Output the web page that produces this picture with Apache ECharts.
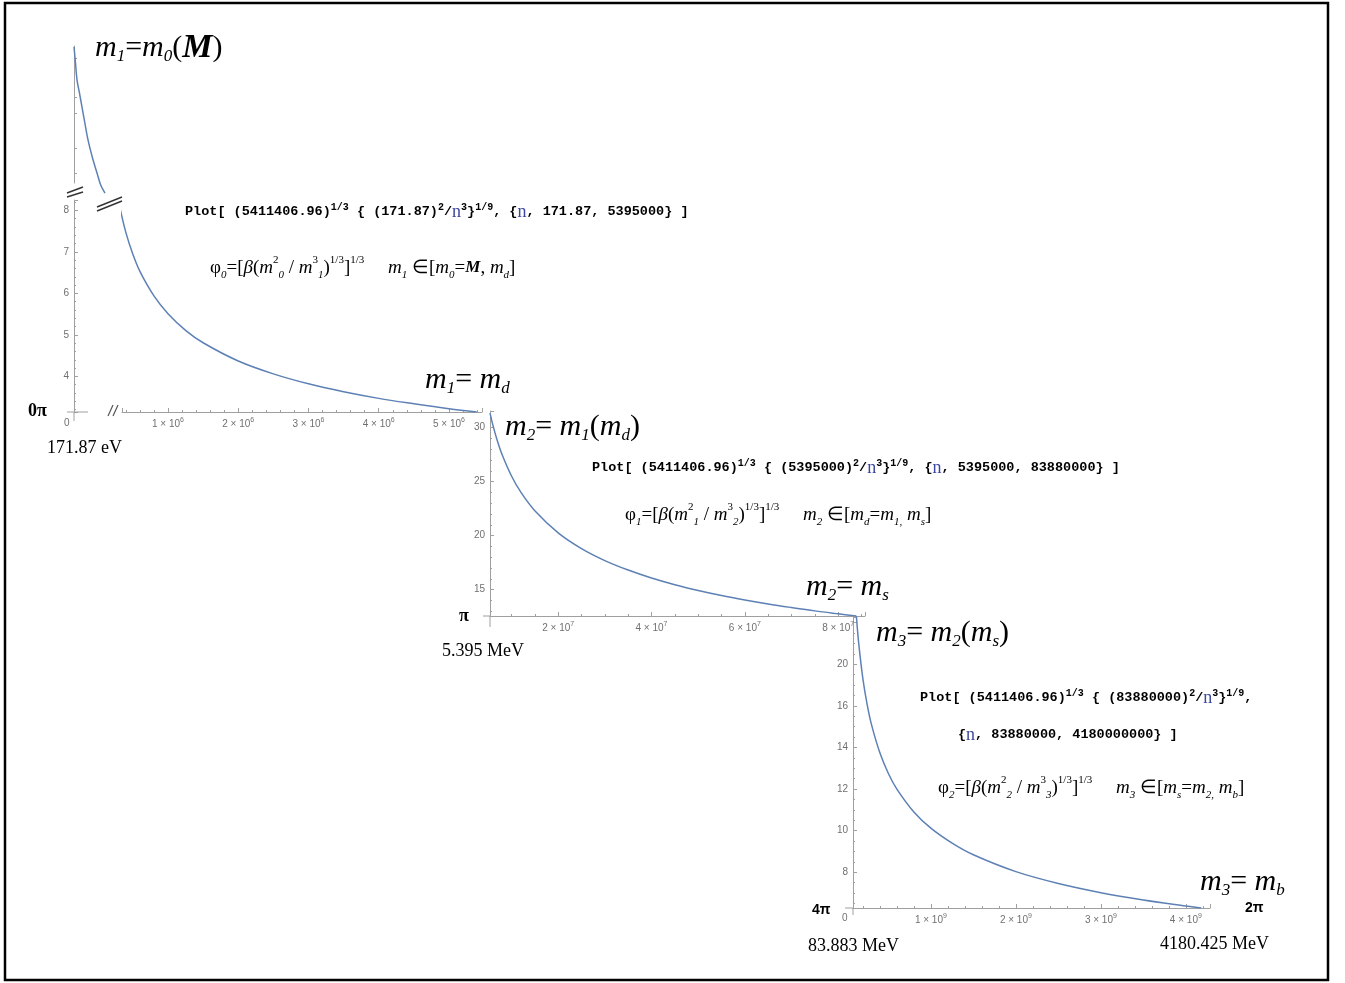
<!DOCTYPE html>
<html>
<head>
<meta charset="utf-8">
<title>phi curves m1 m2 m3</title>
<script src="https://cdn.jsdelivr.net/npm/echarts@6.0.0/dist/echarts.min.js"></script>
<style>
  html, body { margin: 0; padding: 0; background: #fff; }
  #chart { width: 1345px; height: 983px; }
</style>
</head>
<body>
<div id="chart"></div>
<script>
// values, [n, phi]
// first curve above the axis break (drawn on its own squeezed scale)
const curve0Top = [[172, 99.4], [20000, 89.5], [42700, 77.7], [75000, 69.8], [113900, 59.9], [155000, 49.4],
  [199300, 38.3], [260000, 27.1], [327400, 16.6], [380000, 8.7], [441300, 3.4]];
// phi0, m1 from 171.87 eV to 5.395 MeV
const curve0 = [[317000, 8.05], [400000, 7.47], [500000, 6.94], [600000, 6.53], [800000, 5.94], [1000000, 5.51],
  [1250000, 5.11], [1500000, 4.81], [2000000, 4.37], [2500000, 4.06], [3000000, 3.82], [3500000, 3.63],
  [4000000, 3.47], [4500000, 3.34], [5000000, 3.22], [5395000, 3.14]];
// phi1, m2 from 5.395 MeV to 83.88 MeV
const curve1 = [[5395000, 31.36], [6000000, 30.27], [7000000, 28.75], [8000000, 27.5], [10000000, 25.53],
  [12000000, 24.03], [15000000, 22.31], [20000000, 20.27], [25000000, 18.81], [30000000, 17.7],
  [35000000, 16.82], [40000000, 16.08], [45000000, 15.46], [50000000, 14.93], [55000000, 14.46],
  [60000000, 14.05], [65000000, 13.68], [70000000, 13.35], [75000000, 13.04], [80000000, 12.77], [83880000, 12.57]];
// phi2, m3 from 83.88 MeV to 4180 MeV
const curve2 = [[83880000, 23.12], [100000000, 21.81], [120000000, 20.52], [150000000, 19.05], [200000000, 17.31],
  [250000000, 16.07], [300000000, 15.12], [400000000, 13.74], [500000000, 12.75], [600000000, 12.0],
  [800000000, 10.9], [1000000000, 10.12], [1250000000, 9.4], [1500000000, 8.84], [2000000000, 8.03],
  [2500000000, 7.46], [3000000000, 7.02], [3500000000, 6.67], [4000000000, 6.38], [4180000000, 6.28]];

// tick labels of the last plot (the top one reads 20 in the picture)
const p3TickValues = [8, 10, 12, 14, 16, 18];
const p3TickLabels = ['8', '10', '12', '14', '16', '20'];
const topTicks = [16.6, 33, 56, 66.5, 92];

const SERIF = '"Liberation Serif", "Times New Roman", serif';
const MONO = '"Liberation Mono", "DejaVu Sans Mono", monospace';
const SANS = '"Liberation Sans", Arial, sans-serif';
const AXIS = '#a0a0a0';
const LABEL = '#707070';
const CURVE = '#5e81b5';

const chart = echarts.init(document.getElementById('chart'));

function powLabel(v, step) {
    if (v <= 0 || Math.abs(v / step - Math.round(v / step)) > 1e-6) return '';
    const e = Math.floor(Math.log10(v) + 1e-9);
    const k = Math.round(v / Math.pow(10, e));
    return '{b|' + k + ' × 10}{p|' + e + '}';
}

const xRich = {
    b: { fontSize: 10, fontFamily: SANS, color: LABEL, lineHeight: 14 },
    p: { fontSize: 7, fontFamily: SANS, color: LABEL, lineHeight: 8, verticalAlign: 'top' }
};

function xAxisOf(grid, min, max, split, step, minor) {
    return {
        type: 'value', gridIndex: grid, min, max, splitNumber: split,
        axisLine: { show: true, onZero: false, lineStyle: { color: AXIS, width: 1 } },
        axisTick: { show: true, inside: true, length: 4, lineStyle: { color: AXIS } },
        minorTick: { show: true, splitNumber: minor, length: 2, lineStyle: { color: AXIS } },
        splitLine: { show: false },
        axisLabel: { margin: 5, formatter: v => powLabel(v, step), rich: xRich }
    };
}

function yAxisOf(grid, min, max, split, minor, fmt, offset) {
    return {
        type: 'value', gridIndex: grid, min, max, splitNumber: split, offset: offset || 0,
        axisLine: { show: true, onZero: false, lineStyle: { color: AXIS, width: 1 } },
        axisTick: { show: true, inside: true, length: 4, lineStyle: { color: AXIS } },
        minorTick: { show: true, splitNumber: minor, length: 2, lineStyle: { color: AXIS } },
        splitLine: { show: false },
        axisLabel: { margin: 5, fontSize: 10, fontFamily: SANS, color: LABEL, formatter: fmt }
    };
}

const intLabel = v => (Math.abs(v - Math.round(v)) < 1e-9 ? String(Math.round(v)) : '');

// text helpers
const bigRich = {
    s: { fontFamily: SERIF, fontStyle: 'italic', fontSize: 17, lineHeight: 20, verticalAlign: 'bottom' },
    r: { fontFamily: SERIF, fontStyle: 'normal', fontSize: 30, lineHeight: 34 },
    M: { fontFamily: SERIF, fontStyle: 'italic', fontWeight: 'bold', fontSize: 34, lineHeight: 34 }
};
const plotRich = {
    p: { fontFamily: MONO, fontWeight: 'bold', fontSize: 10, lineHeight: 10, verticalAlign: 'top' },
    n: { fontFamily: SERIF, fontWeight: 'normal', fontSize: 18, lineHeight: 20, fill: '#3c46a0' }
};
const phiRich = {
    i: { fontFamily: SERIF, fontStyle: 'italic', fontSize: 19, lineHeight: 26 },
    s: { fontFamily: SERIF, fontStyle: 'italic', fontSize: 11, lineHeight: 13, verticalAlign: 'bottom' },
    u: { fontFamily: SERIF, fontSize: 11, lineHeight: 13, verticalAlign: 'top' },
    M: { fontFamily: SERIF, fontStyle: 'italic', fontWeight: 'bold', fontSize: 17, lineHeight: 26 }
};

function big(x, y, text) {
    return { type: 'text', z: 10, style: { x, y, text, rich: bigRich, fill: '#000', verticalAlign: 'middle',
        font: 'italic 30px ' + SERIF, lineHeight: 34 } };
}
function plot(x, y, text) {
    return { type: 'text', z: 10, style: { x, y, text, rich: plotRich, fill: '#000', verticalAlign: 'middle',
        font: 'bold 13.5px ' + MONO, lineHeight: 20 } };
}
function phi(x, y, text) {
    return { type: 'text', z: 10, style: { x, y, text, rich: phiRich, fill: '#000', verticalAlign: 'middle',
        font: '19px ' + SERIF, lineHeight: 26 } };
}
function plain(x, y, text, font, color) {
    return { type: 'text', z: 10, style: { x, y, text, fill: color || '#000', verticalAlign: 'middle', font } };
}
function seg(x1, y1, x2, y2, color, w) {
    return { type: 'line', z: 10, shape: { x1, y1, x2, y2 }, style: { stroke: color || AXIS, lineWidth: w || 1 } };
}

const option = {
    animation: false,
    backgroundColor: '#fff',
    grid: [
        { left: 74, top: 46, width: 36, height: 137, outerBoundsMode: 'none' },
        { left: 122, top: 200, width: 360, height: 212, outerBoundsMode: 'none' },
        { left: 490, top: 411, width: 375, height: 205, outerBoundsMode: 'none' },
        { left: 853, top: 617, width: 357, height: 291, outerBoundsMode: 'none' }
    ],
    xAxis: [
        { type: 'value', gridIndex: 0, min: 0, max: 512500, show: false },
        xAxisOf(1, 345200, 5469800, 5, 1e6, 5),
        xAxisOf(2, 5395000, 85740000, 4, 2e7, 4),
        xAxisOf(3, 83880000, 4284000000, 4, 1e9, 5)
    ],
    yAxis: [
        {
            type: 'value', gridIndex: 0, min: 10, max: 100,
            axisLine: { show: true, onZero: false, lineStyle: { color: AXIS } },
            axisTick: { show: true, inside: true, length: 3, customValues: topTicks, lineStyle: { color: AXIS } },
            axisLabel: { show: false },
            splitLine: { show: false }
        },
        yAxisOf(1, 3.1416, 8.25, 5, 5, intLabel, 48),
        yAxisOf(2, 12.566, 31.55, 4, 5, intLabel),
        yAxisOf(3, 6.283, 20.27, 7, 4, v => {
            const i = p3TickValues.findIndex(t => Math.abs(t - v) < 1e-9);
            return i >= 0 ? p3TickLabels[i] : '';
        })
    ],
    series: [
        { type: 'line', xAxisIndex: 0, yAxisIndex: 0, data: curve0Top, clip: false },
        { type: 'line', xAxisIndex: 1, yAxisIndex: 1, data: curve0, clip: false },
        { type: 'line', xAxisIndex: 2, yAxisIndex: 2, data: curve1 },
        { type: 'line', xAxisIndex: 3, yAxisIndex: 3, data: curve2 }
    ].map(s => Object.assign(s, {
        showSymbol: false, smooth: 0.35, silent: true,
        lineStyle: { color: CURVE, width: 1.5 }
    })),
    graphic: [
        { type: 'rect', z: 20, shape: { x: 5, y: 3, width: 1323, height: 977 },
          style: { fill: 'none', stroke: '#000', lineWidth: 2.5 } },

        // axis break marks and origin stubs
        seg(67, 193, 83, 187, '#333', 1.4), seg(67, 197, 83, 192, '#333', 1.4),
        seg(97, 207, 122, 197, '#333', 1.4), seg(97, 211, 122, 201, '#333', 1.4),
        seg(108, 416, 113, 405, '#555', 1.2), seg(113, 416, 118, 405, '#555', 1.2),
        seg(67, 412, 88, 412), seg(74, 412, 74, 421),
        seg(483, 616, 490, 616), seg(490, 616, 490, 627),
        seg(845, 908, 853, 908), seg(853, 908, 853, 915),
        plain(64, 423, '0', '10px ' + SANS, LABEL),
        plain(842, 918, '0', '10px ' + SANS, LABEL),

        // first plot
        big(95, 48, 'm{s|1}{r|=}m{s|0}{r|(}{M|M}{r|)}'),
        plot(185, 212, 'Plot[ (5411406.96){p|1/3} { (171.87){p|2}/{n|n}{p|3}}{p|1/9}, {{n|n}, 171.87, 5395000} ]'),
        phi(210, 268, 'φ{s|0}=[{i|β}({i|m}{u|2}{s|0} / {i|m}{u|3}{s|1}){u|1/3}]{u|1/3}     {i|m}{s|1} ∈[{i|m}{s|0}={M|M}, {i|m}{s|d}]'),
        big(425, 380, 'm{s|1}{r|= }m{s|d}'),
        plain(28, 411, '0π', 'bold 18px ' + SERIF),
        plain(47, 448, '171.87 eV', '18px ' + SERIF),

        // second plot
        big(505, 427, 'm{s|2}{r|= }m{s|1}{r|(}m{s|d}{r|)}'),
        plot(592, 468, 'Plot[ (5411406.96){p|1/3} { (5395000){p|2}/{n|n}{p|3}}{p|1/9}, {{n|n}, 5395000, 83880000} ]'),
        phi(625, 515, 'φ{s|1}=[{i|β}({i|m}{u|2}{s|1} / {i|m}{u|3}{s|2}){u|1/3}]{u|1/3}     {i|m}{s|2} ∈[{i|m}{s|d}={i|m}{s|1,} {i|m}{s|s}]'),
        big(806, 587, 'm{s|2}{r|= }m{s|s}'),
        plain(459, 616, 'π', 'bold 18px ' + SERIF),
        plain(442, 651, '5.395 MeV', '18px ' + SERIF),

        // third plot
        big(876, 633, 'm{s|3}{r|= }m{s|2}{r|(}m{s|s}{r|)}'),
        plot(920, 698, 'Plot[ (5411406.96){p|1/3} { (83880000){p|2}/{n|n}{p|3}}{p|1/9},'),
        plot(958, 735, '{{n|n}, 83880000, 4180000000} ]'),
        phi(938, 788, 'φ{s|2}=[{i|β}({i|m}{u|2}{s|2} / {i|m}{u|3}{s|3}){u|1/3}]{u|1/3}     {i|m}{s|3} ∈[{i|m}{s|s}={i|m}{s|2,} {i|m}{s|b}]'),
        big(1200, 882, 'm{s|3}{r|= }m{s|b}'),
        plain(812, 910, '4π', 'bold 14px ' + SANS),
        plain(1245, 908, '2π', 'bold 14px ' + SANS),
        plain(808, 946, '83.883 MeV', '18px ' + SERIF),
        plain(1160, 944, '4180.425 MeV', '18px ' + SERIF)
    ]
};

chart.setOption(option);
</script>
</body>
</html>
